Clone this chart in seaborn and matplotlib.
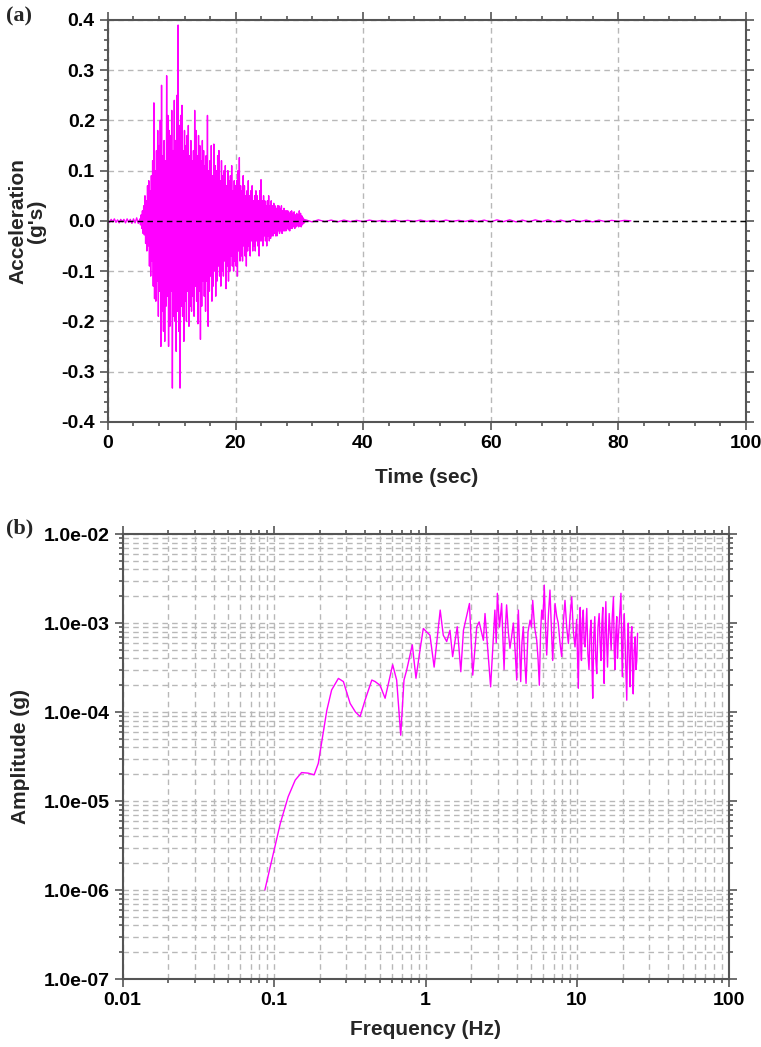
import numpy as np
import pandas as pd
import matplotlib
matplotlib.use("Agg")
import matplotlib.pyplot as plt
import seaborn as sns
from matplotlib.ticker import MultipleLocator, FixedLocator, FuncFormatter, LogLocator, NullFormatter

# --- (a) acceleration time history, peaks (g) ---
# quiet part before the event, one peak every 0.25 s from 0 s
acc_pre = [0.002, -0.003, 0.003, -0.002, 0.004, -0.003, 0.002, -0.004, 0.003, -0.002,
           0.003, -0.004, 0.004, -0.003, 0.003, -0.005, 0.004, -0.004, 0.006, -0.005]
# strong motion, one peak every 0.1 s from 5 s
acc_main = [
    0.004, -0.008, 0.012, -0.015, 0.02, -0.025, 0.03, -0.028, 0.05, -0.045,
    0.04, -0.06, 0.07, -0.05, 0.08, -0.09, 0.06, -0.11, 0.09, -0.08,
    0.12, -0.13, 0.235, -0.155, 0.10, -0.16, 0.14, -0.12, 0.18, -0.19,
    0.15, -0.14, 0.20, -0.25, 0.27, -0.18, 0.13, -0.22, 0.16, -0.24,
    0.12, -0.17, 0.289, -0.15, 0.21, -0.25, 0.18, -0.21, 0.17, -0.14,
    0.22, -0.333, 0.14, -0.19, 0.24, -0.20, 0.16, -0.26, 0.25, -0.18,
    0.39, -0.22, 0.19, -0.333, 0.21, -0.17, 0.23, -0.19, 0.14, -0.24,
    0.18, -0.16, 0.15, -0.20, 0.17, -0.14, 0.19, -0.21, 0.13, -0.17,
    0.16, -0.18, 0.12, -0.15, 0.14, -0.19, 0.22, -0.13, 0.18, -0.16,
    0.13, -0.205, 0.17, -0.14, 0.15, -0.236, 0.12, -0.17, 0.16, -0.12,
    0.14, -0.15, 0.11, -0.18, 0.13, -0.12, 0.21, -0.21, 0.10, -0.14,
    0.12, -0.11, 0.15, -0.16, 0.09, -0.13, 0.153, -0.10, 0.11, -0.15,
    0.10, -0.12, 0.13, -0.09, 0.14, -0.11, 0.08, -0.13, 0.12, -0.10,
    0.09, -0.11, 0.10, -0.08, 0.11, -0.135, 0.07, -0.09, 0.10, -0.12,
    0.08, -0.10, 0.09, -0.07, 0.11, -0.09, 0.06, -0.10, 0.08, -0.08,
    0.07, -0.09, 0.08, -0.11, 0.10, -0.06, 0.126, -0.08, 0.07, -0.07,
    0.06, -0.08, 0.09, -0.05, 0.07, -0.07, 0.05, -0.09, 0.06, -0.06,
    0.08, -0.05, 0.05, -0.07, 0.06, -0.04, 0.07, -0.06, 0.04, -0.05,
    0.05, -0.06, 0.06, -0.04, 0.05, -0.05, 0.04, -0.07, 0.06, -0.04,
    0.082, -0.04, 0.04, -0.05, 0.05, -0.03, 0.04, -0.04, 0.03, -0.05,
    0.04, -0.03, 0.05, -0.04, 0.03, -0.035, 0.04, -0.03, 0.03, -0.03,
    0.035, -0.025, 0.03, -0.03, 0.025, -0.03, 0.03, -0.02, 0.03, -0.025,
    0.025, -0.02, 0.03, -0.025, 0.02, -0.02, 0.025, -0.02, 0.02, -0.02,
    0.02, -0.015, 0.02, -0.018, 0.015, -0.02, 0.018, -0.015, 0.02, -0.015,
    0.015, -0.012, 0.018, -0.015, 0.012, -0.012, 0.015, -0.01, 0.012, -0.012,
    0.02, -0.01, 0.015, -0.012, 0.01, -0.008, 0.006, -0.005, 0.003, -0.002,
]
# coda, one peak every 1 s from 31 s to 82 s
acc_post = [0.002, -0.002, 0.002, -0.0015, 0.0015, -0.002, 0.0015, -0.0015, 0.001, -0.0015,
            0.0015, -0.001, 0.001, -0.0015, 0.0015, -0.001, 0.001, -0.001, 0.0015, -0.001,
            0.001, -0.0015, 0.0015, -0.001, 0.001, -0.001, 0.0015, -0.0015, 0.0015, -0.002,
            0.002, -0.0015, 0.002, -0.002, 0.0015, -0.002, 0.002, -0.0015, 0.002, -0.002,
            0.0015, -0.002, 0.002, -0.0015, 0.0015, -0.002, 0.0015, -0.0015, 0.001, -0.001,
            0.001, 0.0]

time_s = np.concatenate([0.25 * np.arange(len(acc_pre)),
                         5 + 0.1 * np.arange(len(acc_main)),
                         31 + 1.0 * np.arange(len(acc_post))])
acc_g = np.array(acc_pre + acc_main + acc_post)
df_acc = pd.DataFrame({"time": time_s, "acc": acc_g})

# --- (b) Fourier amplitude spectrum ---
freq_low = [0.087, 0.110, 0.124, 0.138, 0.152, 0.168, 0.184, 0.196, 0.206, 0.223,
            0.240, 0.266, 0.287, 0.318, 0.345, 0.370, 0.399, 0.442, 0.465, 0.501,
            0.541, 0.607, 0.645, 0.686, 0.721, 0.751, 0.818, 0.865, 0.92, 0.967,
            1.07, 1.14, 1.25, 1.31, 1.38, 1.45, 1.51, 1.62, 1.71, 1.78,
            1.95, 2.05, 2.18, 2.26, 2.41, 2.47, 2.60, 2.69]
amp_low = [1.0e-6, 5.6e-6, 1.12e-5, 1.72e-5, 2.09e-5, 2.06e-5, 1.97e-5, 2.65e-5, 4.5e-5, 1.04e-4,
           1.77e-4, 2.39e-4, 2.2e-4, 1.25e-4, 1.0e-4, 8.9e-5, 1.36e-4, 2.29e-4, 2.2e-4, 2.0e-4,
           1.43e-4, 3.4e-4, 2.29e-4, 5.5e-5, 2.29e-4, 2.96e-4, 5.7e-4, 2.4e-4, 5.0e-4, 8.7e-4,
           7.3e-4, 3.2e-4, 1.4e-3, 7.3e-4, 6.2e-4, 8.3e-4, 4.2e-4, 9.1e-4, 2.84e-4, 8.3e-4,
           1.66e-3, 2.6e-4, 9.1e-4, 1.03e-3, 6.4e-4, 1.28e-3, 4.0e-4, 1.92e-4]
freq_mid = [2.87, 2.93, 2.98, 3.08, 3.18, 3.24, 3.30, 3.37, 3.43, 3.52,
            3.61, 3.70, 3.80, 3.90, 4.0, 4.05, 4.10, 4.17, 4.25, 4.33,
            4.42, 4.51, 4.61, 4.75, 4.90, 5.0, 5.10, 5.25, 5.42, 5.53,
            5.64, 5.75, 5.85, 5.96, 6.08, 6.2, 6.31, 6.47, 6.63, 6.77,
            6.91, 7.03, 7.16, 7.34, 7.52, 7.72, 7.92, 8.12, 8.33, 8.55,
            8.77, 9.0, 9.23, 9.46, 9.70, 9.95]
amp_mid = [1.4e-3, 6e-4, 2.16e-3, 9e-4, 1.66e-3, 7e-4, 3.0e-4, 9e-4, 1.6e-3, 8e-4,
           5.2e-4, 7e-4, 1.0e-3, 5e-4, 2.29e-4, 8e-4, 1.4e-3, 6e-4, 2.2e-4, 6e-4,
           9.1e-4, 4e-4, 2.1e-4, 8e-4, 1.08e-3, 9e-4, 1.8e-3, 9e-4, 6.4e-4, 4e-4,
           2.0e-4, 8e-4, 1.4e-3, 1.1e-3, 2.67e-3, 9e-4, 4.37e-4, 1.2e-3, 2.35e-3, 9e-4,
           3.8e-4, 8e-4, 1.66e-3, 1.2e-3, 1.0e-3, 6e-4, 4.2e-4, 1.0e-3, 1.8e-3, 9e-4,
           5.9e-4, 1.2e-3, 1.97e-3, 8e-4, 5.4e-4, 1.1e-3]
freq_high = [10.2, 10.35, 10.5, 10.6, 10.7, 10.85, 11.0, 11.15, 11.3, 11.45,
             11.6, 11.8, 12.0, 12.2, 12.4, 12.55, 12.7, 12.9, 13.1, 13.3,
             13.5, 13.75, 14.0, 14.2, 14.4, 14.6, 14.8, 14.95, 15.1, 15.3,
             15.5, 15.7, 15.9, 16.1, 16.3, 16.55, 16.8, 17.1, 17.4, 17.6,
             17.8, 18.05, 18.3, 18.5, 18.7, 19.1, 19.5, 19.7, 19.9, 20.2,
             20.5, 20.9, 21.3, 21.55, 21.8, 22.1, 22.4, 22.7, 23.0, 23.25,
             23.5, 23.85, 24.2, 24.5, 24.8, 25.1]
amp_high = [1.85e-4, 9e-4, 1.5e-3, 5e-4, 3.8e-4, 1.1e-3, 1.4e-3, 6e-4, 5.4e-4, 9e-4,
            1.46e-3, 4.5e-4, 3.0e-4, 8e-4, 1.08e-3, 3.5e-4, 1.43e-4, 7e-4, 1.18e-3, 4e-4,
            2.7e-4, 9e-4, 1.28e-3, 6e-4, 3.8e-4, 1.0e-3, 1.5e-3, 5e-4, 2.1e-4, 8e-4,
            1.74e-3, 6e-4, 3.2e-4, 7e-4, 1.28e-3, 8e-4, 5e-4, 1.2e-3, 1.97e-3, 5e-4,
            3.0e-4, 8e-4, 1.18e-3, 4e-4, 6.4e-4, 1.2e-3, 2.16e-3, 6e-4, 2.5e-4, 8e-4,
            1.28e-3, 4e-4, 1.36e-4, 6e-4, 1.0e-3, 4e-4, 1.92e-4, 7e-4, 9.1e-4, 3e-4,
            1.6e-4, 5e-4, 7e-4, 3e-4, 3.8e-4, 7.7e-4]
df_fas = pd.DataFrame({"freq": freq_low + freq_mid + freq_high,
                       "amp": amp_low + amp_mid + amp_high})

sns.set_style("ticks")
plt.rcParams["font.family"] = ["Liberation Sans", "DejaVu Sans"]
plt.rcParams["font.weight"] = "bold"
plt.rcParams["axes.labelweight"] = "bold"

magenta = "#ff00ff"
grid_kw = dict(linestyle=(0, (4, 3)), color="#b8b8b8", linewidth=1.0)

fig = plt.figure(figsize=(7.61, 10.47), dpi=100)
ax1 = fig.add_axes([0.1419, 0.5972, 0.8379, 0.3837])
ax2 = fig.add_axes([0.161, 0.0649, 0.7963, 0.425])


def style(ax):
    for s in ax.spines.values():
        s.set_color("#555555")
        s.set_linewidth(1.5)
    ax.tick_params(which="both", direction="out", top=True, right=True,
                   color="#555555", labelcolor="black", width=1.2)
    ax.tick_params(which="major", length=6, labelsize=14)
    ax.tick_params(which="minor", length=3)
    ax.set_axisbelow(True)


# panel (a)
sns.lineplot(data=df_acc, x="time", y="acc", ax=ax1, color=magenta,
             linewidth=1.0, estimator=None, sort=False)
ax1.axhline(0, color="black", linestyle=(0, (4, 3)), linewidth=1.0, zorder=3)
ax1.set_xlim(0, 100)
ax1.set_ylim(-0.4, 0.4)
ax1.xaxis.set_major_locator(MultipleLocator(20))
ax1.xaxis.set_minor_locator(MultipleLocator(4))
ax1.yaxis.set_major_locator(FixedLocator(np.arange(-4, 5) / 10))
ax1.yaxis.set_minor_locator(MultipleLocator(0.02))
ax1.yaxis.set_major_formatter(FuncFormatter(lambda v, p: f"{v:.1f}".replace("-0.0", "0.0")))
ax1.grid(True, which="major", **grid_kw)
style(ax1)
ax1.set_xlabel("Time (sec)", fontsize=15)
ax1.set_ylabel("Acceleration\n(g's)", fontsize=15, linespacing=1.0)
ax1.xaxis.set_label_coords(0.5, -0.115)
ax1.yaxis.set_label_coords(-0.097, 0.5)

# panel (b)
ax2.set_xscale("log")
ax2.set_yscale("log")
sns.lineplot(data=df_fas, x="freq", y="amp", ax=ax2, color=magenta,
             linewidth=1.0, estimator=None, sort=False)
ax2.set_xlim(0.01, 100)
ax2.set_ylim(1e-7, 1e-2)
ax2.xaxis.set_major_locator(LogLocator(base=10, numticks=20))
ax2.xaxis.set_minor_locator(LogLocator(base=10, subs=np.arange(2, 10), numticks=100))
ax2.yaxis.set_major_locator(LogLocator(base=10, numticks=20))
ax2.yaxis.set_minor_locator(LogLocator(base=10, subs=np.arange(2, 10), numticks=100))
ax2.xaxis.set_major_formatter(FuncFormatter(lambda v, p: f"{v:g}"))
ax2.yaxis.set_major_formatter(FuncFormatter(lambda v, p: f"{v:.1e}"))
ax2.xaxis.set_minor_formatter(NullFormatter())
ax2.yaxis.set_minor_formatter(NullFormatter())
ax2.grid(True, which="both", **grid_kw)
style(ax2)
ax2.set_xlabel("Frequency (Hz)", fontsize=15)
ax2.set_ylabel("Amplitude (g)", fontsize=15)
ax2.xaxis.set_label_coords(0.5, -0.093)
ax2.yaxis.set_label_coords(-0.152, 0.5)

serif = ["Liberation Serif", "DejaVu Serif"]
fig.text(0.008, 1 - 16 / 1047, "(a)", family=serif, fontsize=16, weight="bold", va="center")
fig.text(0.008, 1 - 528 / 1047, "(b)", family=serif, fontsize=16, weight="bold", va="center")

fig.savefig("out.png", dpi=100)
